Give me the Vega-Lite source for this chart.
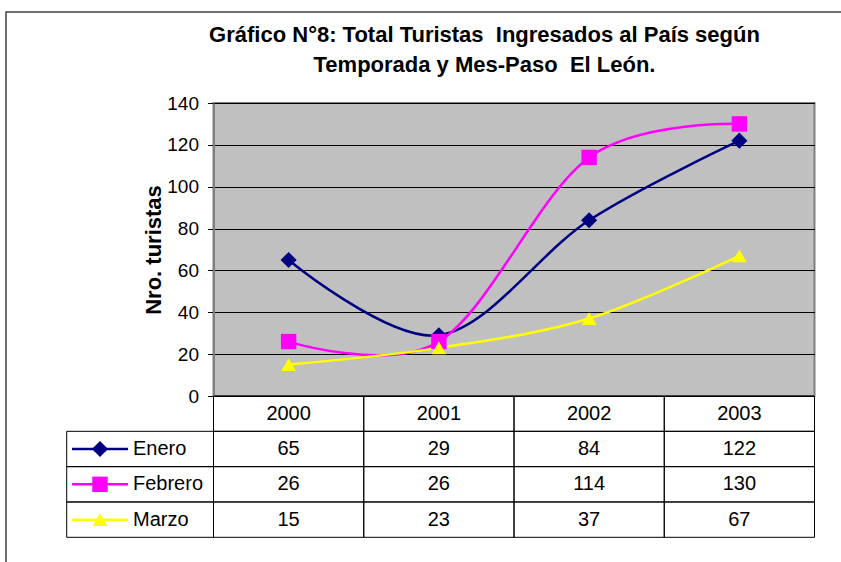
{
  "$schema": "https://vega.github.io/schema/vega-lite/v6.json",
  "width": 601,
  "height": 293,
  "autosize": {"type": "none"},
  "padding": {"left": 213.5, "top": 103, "right": 26.5, "bottom": 166},
  "background": "white",
  "view": {"fill": "#c0c0c0", "stroke": "#808080", "strokeWidth": 2},
  "config": {"font": "Liberation Sans"},
  "title": {
    "text": ["Gráfico N°8: Total Turistas \u00a0Ingresados al País según", "Temporada y Mes-Paso \u00a0El León."],
    "fontSize": 22,
    "fontWeight": "bold",
    "color": "black",
    "anchor": "middle",
    "frame": "group",
    "dx": -29.5,
    "offset": -66,
    "lineHeight": 30
  },
  "datasets": {
    "turistas": [
      {"serie": "Enero", "year": "2000", "value": 65},
      {"serie": "Enero", "year": "2001", "value": 29},
      {"serie": "Enero", "year": "2002", "value": 84},
      {"serie": "Enero", "year": "2003", "value": 122},
      {"serie": "Febrero", "year": "2000", "value": 26},
      {"serie": "Febrero", "year": "2001", "value": 26},
      {"serie": "Febrero", "year": "2002", "value": 114},
      {"serie": "Febrero", "year": "2003", "value": 130},
      {"serie": "Marzo", "year": "2000", "value": 15},
      {"serie": "Marzo", "year": "2001", "value": 23},
      {"serie": "Marzo", "year": "2002", "value": 37},
      {"serie": "Marzo", "year": "2003", "value": 67}
    ],
    "years": [{"year": "2000"}, {"year": "2001"}, {"year": "2002"}, {"year": "2003"}],
    "series": [{"serie": "Enero"}, {"serie": "Febrero"}, {"serie": "Marzo"}],
    "frame": [{"f": "chart"}]
  },
  "layer": [
    {
      "data": {"name": "frame"},
      "mark": {"type": "rect", "filled": false, "stroke": "#404040", "strokeWidth": 1.5},
      "encoding": {
        "x": {"field": "f", "type": "nominal", "axis": null, "scale": {"type": "band", "domain": ["chart"], "range": [-207.5, 700], "paddingInner": 0, "paddingOuter": 0}},
        "y": {"field": "f", "type": "nominal", "axis": null, "scale": {"type": "band", "domain": ["chart"], "range": [-91, 600], "paddingInner": 0, "paddingOuter": 0}}
      }
    },
    {
      "data": {"name": "turistas"},
      "mark": {"type": "line", "interpolate": "cardinal", "strokeWidth": 2.5},
      "encoding": {
        "x": {"field": "year", "type": "ordinal", "bandPosition": 0.5, "axis": null, "scale": {"type": "band", "domain": ["2000", "2001", "2002", "2003"], "range": [0, 601], "paddingInner": 0, "paddingOuter": 0}},
        "y": {
          "field": "value", "type": "quantitative",
          "scale": {"domain": [0, 140]},
          "axis": {
            "values": [0, 20, 40, 60, 80, 100, 120, 140],
            "grid": true, "gridColor": "black", "gridWidth": 1, "gridOpacity": 1,
            "domainColor": "#808080", "domainWidth": 2,
            "tickColor": "black", "tickSize": 6, "tickWidth": 1,
            "labelFontSize": 19, "labelColor": "black", "labelPadding": 9,
            "labelFlush": false, "labelOverlap": false,
            "title": "Nro. turistas", "titleFontSize": 22, "titleFontWeight": "bold",
            "titleColor": "black", "titlePadding": 1
          }
        },
        "color": {"field": "serie", "type": "nominal", "scale": {"domain": ["Enero", "Febrero", "Marzo"], "range": ["#000080", "#ff00ff", "#ffff00"]}, "legend": null}
      }
    },
    {
      "data": {"name": "turistas"},
      "mark": {"type": "point", "filled": true, "opacity": 1},
      "encoding": {
        "x": {"field": "year", "type": "ordinal", "bandPosition": 0.5, "axis": null, "scale": {"type": "band", "domain": ["2000", "2001", "2002", "2003"], "range": [0, 601], "paddingInner": 0, "paddingOuter": 0}},
        "y": {"field": "value", "type": "quantitative", "scale": {"domain": [0, 140]}, "axis": null},
        "color": {"field": "serie", "type": "nominal", "scale": {"domain": ["Enero", "Febrero", "Marzo"], "range": ["#000080", "#ff00ff", "#ffff00"]}, "legend": null},
        "shape": {"field": "serie", "type": "nominal", "scale": {"domain": ["Enero", "Febrero", "Marzo"], "range": ["diamond", "square", "triangle-up"]}, "legend": null},
        "size": {"field": "serie", "type": "ordinal", "scale": {"domain": ["Enero", "Febrero", "Marzo"], "range": [260, 215, 380]}, "legend": null}
      }
    },
    {
      "data": {"name": "years"},
      "mark": {"type": "rect", "filled": false, "stroke": "black", "strokeWidth": 1},
      "encoding": {
        "x": {"field": "year", "type": "ordinal", "axis": null, "scale": {"type": "band", "domain": ["2000", "2001", "2002", "2003"], "range": [0, 601], "paddingInner": 0, "paddingOuter": 0}},
        "y": {"datum": "header", "type": "nominal", "axis": null, "scale": {"type": "band", "domain": ["header", "Enero", "Febrero", "Marzo"], "range": [293, 434.3], "paddingInner": 0, "paddingOuter": 0}}
      }
    },
    {
      "data": {"name": "years"},
      "mark": {"type": "text", "fontSize": 20, "color": "black", "baseline": "middle", "align": "center"},
      "encoding": {
        "x": {"field": "year", "type": "ordinal", "bandPosition": 0.5, "axis": null, "scale": {"type": "band", "domain": ["2000", "2001", "2002", "2003"], "range": [0, 601], "paddingInner": 0, "paddingOuter": 0}},
        "y": {"datum": "header", "type": "nominal", "bandPosition": 0.5, "axis": null, "scale": {"type": "band", "domain": ["header", "Enero", "Febrero", "Marzo"], "range": [293, 434.3], "paddingInner": 0, "paddingOuter": 0}},
        "text": {"field": "year"}
      }
    },
    {
      "data": {"name": "turistas"},
      "mark": {"type": "rect", "filled": false, "stroke": "black", "strokeWidth": 1},
      "encoding": {
        "x": {"field": "year", "type": "ordinal", "axis": null, "scale": {"type": "band", "domain": ["2000", "2001", "2002", "2003"], "range": [0, 601], "paddingInner": 0, "paddingOuter": 0}},
        "y": {"field": "serie", "type": "nominal", "axis": null, "scale": {"type": "band", "domain": ["header", "Enero", "Febrero", "Marzo"], "range": [293, 434.3], "paddingInner": 0, "paddingOuter": 0}}
      }
    },
    {
      "data": {"name": "turistas"},
      "mark": {"type": "text", "fontSize": 20, "color": "black", "baseline": "middle", "align": "center"},
      "encoding": {
        "x": {"field": "year", "type": "ordinal", "bandPosition": 0.5, "axis": null, "scale": {"type": "band", "domain": ["2000", "2001", "2002", "2003"], "range": [0, 601], "paddingInner": 0, "paddingOuter": 0}},
        "y": {"field": "serie", "type": "nominal", "bandPosition": 0.5, "axis": null, "scale": {"type": "band", "domain": ["header", "Enero", "Febrero", "Marzo"], "range": [293, 434.3], "paddingInner": 0, "paddingOuter": 0}},
        "text": {"field": "value", "type": "quantitative"}
      }
    },
    {
      "data": {"name": "series"},
      "mark": {"type": "rect", "filled": false, "stroke": "black", "strokeWidth": 1},
      "encoding": {
        "x": {"datum": "lab", "type": "nominal", "axis": null, "scale": {"type": "band", "domain": ["lab"], "range": [-146.8, 0], "paddingInner": 0, "paddingOuter": 0}},
        "y": {"field": "serie", "type": "nominal", "axis": null, "scale": {"type": "band", "domain": ["header", "Enero", "Febrero", "Marzo"], "range": [293, 434.3], "paddingInner": 0, "paddingOuter": 0}}
      }
    },
    {
      "data": {"name": "series"},
      "mark": {"type": "rule", "strokeWidth": 2.5},
      "encoding": {
        "x": {"datum": "key", "type": "nominal", "bandPosition": 0, "axis": null, "scale": {"type": "band", "domain": ["key", "text"], "range": [-141.5, -29.5], "paddingInner": 0, "paddingOuter": 0}},
        "x2": {"datum": "key", "bandPosition": 1},
        "y": {"field": "serie", "type": "nominal", "bandPosition": 0.5, "axis": null, "scale": {"type": "band", "domain": ["header", "Enero", "Febrero", "Marzo"], "range": [293, 434.3], "paddingInner": 0, "paddingOuter": 0}},
        "color": {"field": "serie", "type": "nominal", "scale": {"domain": ["Enero", "Febrero", "Marzo"], "range": ["#000080", "#ff00ff", "#ffff00"]}, "legend": null}
      }
    },
    {
      "data": {"name": "series"},
      "mark": {"type": "point", "filled": true, "opacity": 1},
      "encoding": {
        "x": {"datum": "key", "type": "nominal", "bandPosition": 0.5, "axis": null, "scale": {"type": "band", "domain": ["key", "text"], "range": [-141.5, -29.5], "paddingInner": 0, "paddingOuter": 0}},
        "y": {"field": "serie", "type": "nominal", "bandPosition": 0.5, "axis": null, "scale": {"type": "band", "domain": ["header", "Enero", "Febrero", "Marzo"], "range": [293, 434.3], "paddingInner": 0, "paddingOuter": 0}},
        "color": {"field": "serie", "type": "nominal", "scale": {"domain": ["Enero", "Febrero", "Marzo"], "range": ["#000080", "#ff00ff", "#ffff00"]}, "legend": null},
        "shape": {"field": "serie", "type": "nominal", "scale": {"domain": ["Enero", "Febrero", "Marzo"], "range": ["diamond", "square", "triangle-up"]}, "legend": null},
        "size": {"field": "serie", "type": "ordinal", "scale": {"domain": ["Enero", "Febrero", "Marzo"], "range": [260, 215, 380]}, "legend": null}
      }
    },
    {
      "data": {"name": "series"},
      "mark": {"type": "text", "fontSize": 20, "color": "black", "baseline": "middle", "align": "left", "dx": 5},
      "encoding": {
        "x": {"datum": "text", "type": "nominal", "bandPosition": 0, "axis": null, "scale": {"type": "band", "domain": ["key", "text"], "range": [-141.5, -29.5], "paddingInner": 0, "paddingOuter": 0}},
        "y": {"field": "serie", "type": "nominal", "bandPosition": 0.5, "axis": null, "scale": {"type": "band", "domain": ["header", "Enero", "Febrero", "Marzo"], "range": [293, 434.3], "paddingInner": 0, "paddingOuter": 0}},
        "text": {"field": "serie"}
      }
    }
  ],
  "resolve": {"scale": {"x": "independent", "y": "independent"}}
}
